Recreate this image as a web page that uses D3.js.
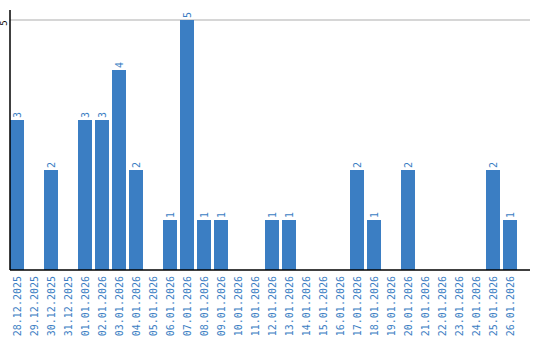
<!DOCTYPE html>
<html>
<head>
<meta charset="utf-8">
<script src="https://cdn.jsdelivr.net/npm/d3@7"></script>
<style>
body { margin: 0; background: #fff; }
svg text { font-family: "DejaVu Sans Mono", monospace; }
</style>
</head>
<body>
<div id="chart"></div>
<script>
// chart data
var dates = ["28.12.2025","29.12.2025","30.12.2025","31.12.2025","01.01.2026","02.01.2026",
  "03.01.2026","04.01.2026","05.01.2026","06.01.2026","07.01.2026","08.01.2026","09.01.2026",
  "10.01.2026","11.01.2026","12.01.2026","13.01.2026","14.01.2026","15.01.2026","16.01.2026",
  "17.01.2026","18.01.2026","19.01.2026","20.01.2026","21.01.2026","22.01.2026","23.01.2026",
  "24.01.2026","25.01.2026","26.01.2026"],
counts = [3,0,2,0,3,3,4,2,0,1,5,1,1,0,0,1,1,0,0,0,2,1,0,2,0,0,0,0,2,1],
yTicks = [5];

var width = 540, height = 340,
blue = "#3b7ec3";

var svg = d3.select("#chart").append("svg")
  .attr("width", width).attr("height", height);

var x = d3.scaleBand().domain(dates).range([10, 517]).paddingInner(3/17).paddingOuter(0);
var y = d3.scaleLinear().domain([0, 5]).range([270, 20]);

// gridline
svg.selectAll("line.grid").data(yTicks).enter().append("line")
  .attr("class", "grid")
  .attr("x1", 10).attr("x2", 530)
  .attr("y1", function(d){return y(d);}).attr("y2", function(d){return y(d);})
  .attr("stroke", "#c8c8c8").attr("stroke-width", 1.5);

// y tick label
svg.selectAll("text.ytick").data(yTicks).enter().append("text")
  .attr("class", "ytick")
  .attr("transform", function(d){return "translate(7," + (y(d) + 3) + ") rotate(-90)";})
  .attr("text-anchor", "middle")
  .attr("font-size", 9)
  .attr("fill", "#000")
  .text(function(d){return d;});

// bars
svg.selectAll("rect.bar").data(counts).enter().append("rect")
  .attr("class", "bar")
  .attr("x", function(d,i){return x(dates[i]);})
  .attr("width", x.bandwidth())
  .attr("y", function(d){return y(d);})
  .attr("height", function(d){return y(0) - y(d);})
  .attr("fill", blue);

// value labels (only non-zero days)
counts.forEach(function(d, i){
  if (d <= 0) return;
  svg.append("text")
    .attr("class", "val")
    .attr("transform", "translate(" + (x(dates[i]) + x.bandwidth()/2) + "," + (y(d) - 2) + ") rotate(-90)")
    .attr("dy", "0.35em")
    .attr("font-size", 10)
    .attr("fill", blue)
    .text(d);
});

// axes lines
svg.append("line").attr("x1", 10).attr("x2", 10).attr("y1", 10).attr("y2", 270)
  .attr("stroke", "#000").attr("stroke-width", 1.5);
svg.append("line").attr("x1", 10).attr("x2", 530).attr("y1", 270).attr("y2", 270)
  .attr("stroke", "#000").attr("stroke-width", 1.5);

// x labels
svg.selectAll("text.xlab").data(dates).enter().append("text")
  .attr("class", "xlab")
  .attr("transform", function(d){return "translate(" + (x(d) + x.bandwidth()/2) + ",276) rotate(-90)";})
  .attr("text-anchor", "end")
  .attr("dy", "0.35em")
  .attr("font-size", 10)
  .attr("fill", blue)
  .text(function(d){return d;});
</script>
</body>
</html>
